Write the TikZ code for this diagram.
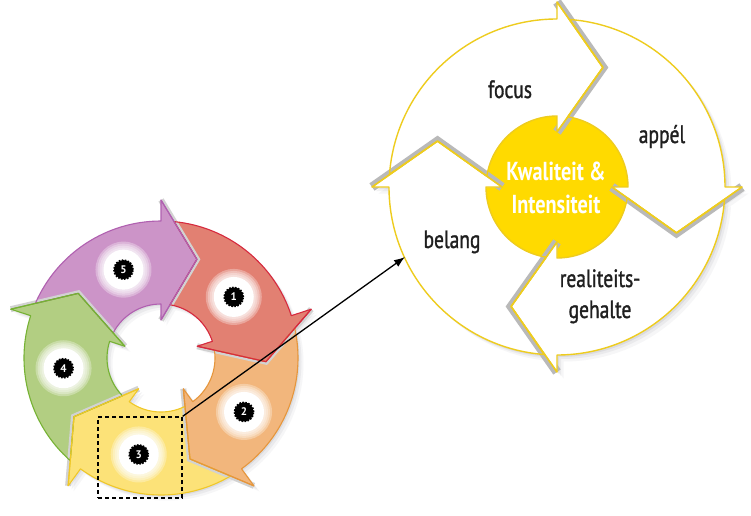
\documentclass[tikz,border=0pt]{standalone}
\usepackage{fontspec}
\setmainfont{PT Sans}
\newfontfamily\labfont[FakeStretch=0.78,FakeBold=1.2]{PT Sans}
\newfontfamily\ctrfont[FakeStretch=0.78]{PT Sans}
\usetikzlibrary{arrows.meta}
\definecolor{pfill}{RGB}{204,148,200}
\definecolor{pline}{RGB}{176,96,176}
\definecolor{rfill}{RGB}{226,128,114}
\definecolor{rline}{RGB}{214,42,62}
\definecolor{ofill}{RGB}{242,182,124}
\definecolor{oline}{RGB}{230,150,60}
\definecolor{yfill}{RGB}{252,226,120}
\definecolor{yline}{RGB}{240,200,40}
\definecolor{gfill}{RGB}{178,206,130}
\definecolor{gline}{RGB}{118,178,52}
\definecolor{ringline}{RGB}{238,204,30}
\definecolor{ycore}{RGB}{255,218,0}
\definecolor{yedge}{RGB}{200,168,0}
\definecolor{shadowc}{RGB}{90,90,110}
\pgfdeclareradialshading{yball}{\pgfpoint{0bp}{0bp}}{color(0bp)=(ycore); color(34bp)=(ycore); color(50bp)=(yedge)}
\newcommand{\arrowpath}[2]{({#1-\oo}:\Rout) arc[start angle={#1-\oo}, end angle={#2}, radius=\Rout] -- (#2:\Rbo) -- ({#2-\dd}:\Rtip) -- (#2:\Rbi) -- (#2:\Rin) arc[start angle={#2}, end angle={#1-\io}, radius=\Rin] -- ({#1-\dd}:\Rtip) -- cycle}
\newcommand{\headtri}[1]{(#1:\Rbo) -- ({#1-\dd}:\Rtip) -- (#1:\Rbi) -- cycle}
\newcommand{\headedge}[1]{(#1:\Rbo) -- ({#1-\dd}:\Rtip) -- (#1:\Rbi)}
\newcommand{\glowat}[1]{\foreach \r in {28,26,24,22}{\fill[white,opacity=0.3] (#1) circle[radius=\r pt];}\fill[white] (#1) circle[radius=20pt];}
\tikzset{
  segline/.style={line width=1.1pt, line join=round},
  leftband/.style={draw=gray!35, line width=6pt, line join=miter},
  rightband/.style={draw=gray!55, line width=9pt, line join=miter},
  ringout/.style={draw=ringline, line width=1.4pt, line join=round},
  badge/.style={circle, fill=black, draw=black, line width=1.8pt, dash pattern=on 1.6pt off 1.4pt, inner sep=0pt, minimum size=19pt, text=white, font=\bfseries\fontsize{11}{11}\selectfont},
  lab/.style={font=\labfont\fontsize{25}{31}\selectfont, text=black!88, inner sep=0pt},
  ctr/.style={font=\ctrfont\bfseries\fontsize{26}{33}\selectfont, text=white, inner sep=0pt},
  zoombox/.style={draw=black, dash pattern=on 4pt off 3pt, line width=1.3pt, minimum width=84pt, minimum height=81pt, inner sep=0pt},
  conn/.style={draw=black, line width=1.3pt, -{Latex[length=11pt,width=8pt]}}
}
\begin{document}
\begin{tikzpicture}[x=1pt,y=1pt]
\useasboundingbox (0,0) rectangle (751,515);
\fill[white] (0,0) rectangle (751,515);
% ---------------- left cycle ----------------
\begin{scope}[shift={(161,157)}]
\def\Rin{54pt}\def\Rout{137pt}\def\Rbi{38pt}\def\Rbo{158pt}\def\Rtip{105pt}\def\dd{20}\def\oo{5.5}\def\io{9.6}
\foreach \s/\o in {1.5/0.10,3.5/0.08,5.5/0.05}{
  \foreach \a/\b in {162/90,90/18,18/-54,-54/-126,-126/-198}{
    \fill[shadowc,opacity=\o,shift={(\s,-\s)}] \arrowpath{\a}{\b};}}
\fill[pfill] \arrowpath{162}{90};
\fill[rfill] \arrowpath{90}{18};
\fill[ofill] \arrowpath{18}{-54};
\fill[yfill] \arrowpath{-54}{-126};
\fill[gfill] \arrowpath{-126}{-198};
\foreach \b in {90,18,-54,-126,-198} \draw[leftband] \headedge{\b};
\fill[pfill] \headtri{90};
\fill[rfill] \headtri{18};
\fill[ofill] \headtri{-54};
\fill[yfill] \headtri{-126};
\fill[gfill] \headtri{-198};
\draw[pline,segline] \arrowpath{162}{90};
\draw[rline,segline] \arrowpath{90}{18};
\draw[oline,segline] \arrowpath{18}{-54};
\draw[yline,segline] \arrowpath{-54}{-126};
\draw[gline,segline] \arrowpath{-126}{-198};
\draw[pline,segline] \headedge{90};
\draw[rline,segline] \headedge{18};
\draw[oline,segline] \headedge{-54};
\draw[yline,segline] \headedge{-126};
\draw[gline,segline] \headedge{-198};
\coordinate (c1) at (40:95pt);
\coordinate (c2) at (-33:99pt);
\coordinate (c3) at (-103:99pt);
\coordinate (c4) at (186:98pt);
\coordinate (c5) at (113:96pt);
\glowat{c1}\glowat{c2}\glowat{c3}\glowat{c4}\glowat{c5}
\node[badge] (b1) at (c1) {1};
\node[badge] (b2) at (c2) {2};
\node[badge] (b3) at (c3) {3};
\node[badge] (b4) at (c4) {4};
\node[badge] (b5) at (c5) {5};
\end{scope}
% ---------------- right cycle ----------------
\begin{scope}[shift={(557,328)}]
\def\Rin{71pt}\def\Rout{168pt}\def\Rbi{55pt}\def\Rbo{185pt}\def\Rtip{128pt}\def\dd{21}\def\oo{4.4}\def\io{8.7}
\foreach \s/\o in {2/0.10,4/0.08,6.5/0.05}{
  \foreach \a/\b in {180/90,90/0,0/-90,-90/-180}{
    \fill[shadowc,opacity=\o,shift={(\s,-\s)}] \arrowpath{\a}{\b};}}
\shade[shading=yball] (0,0) circle[radius=71pt];
\foreach \a/\b in {180/90,90/0,0/-90,-90/-180} \fill[white] \arrowpath{\a}{\b};
\foreach \b in {90,0,-90,-180} \draw[rightband] \headedge{\b};
\foreach \b in {90,0,-90,-180} \fill[white] \headtri{\b};
\foreach \a/\b in {180/90,90/0,0/-90,-90/-180} \draw[ringout] \arrowpath{\a}{\b};
\foreach \b in {90,0,-90,-180} \draw[ringout] \headedge{\b};
\end{scope}
\node[lab, anchor=base] (focus) at (510,417) {focus};
\node[lab, anchor=base] (appel) at (662,372) {appél};
\node[lab, anchor=base] (belang) at (452,267) {belang};
\node[lab, align=center, anchor=base] (real) at (600,197) {realiteits-\\gehalte};
\node[ctr, align=center, anchor=base] (kwal) at (556,302) {Kwaliteit \&\\Intensiteit};
% ---------------- zoom box and connector ----------------
\node[zoombox] (zoom) at (140,57.5) {};
\coordinate (tgt) at (405,258);
\draw[conn] (zoom.north east) -- (tgt);
\end{tikzpicture}
\end{document}
